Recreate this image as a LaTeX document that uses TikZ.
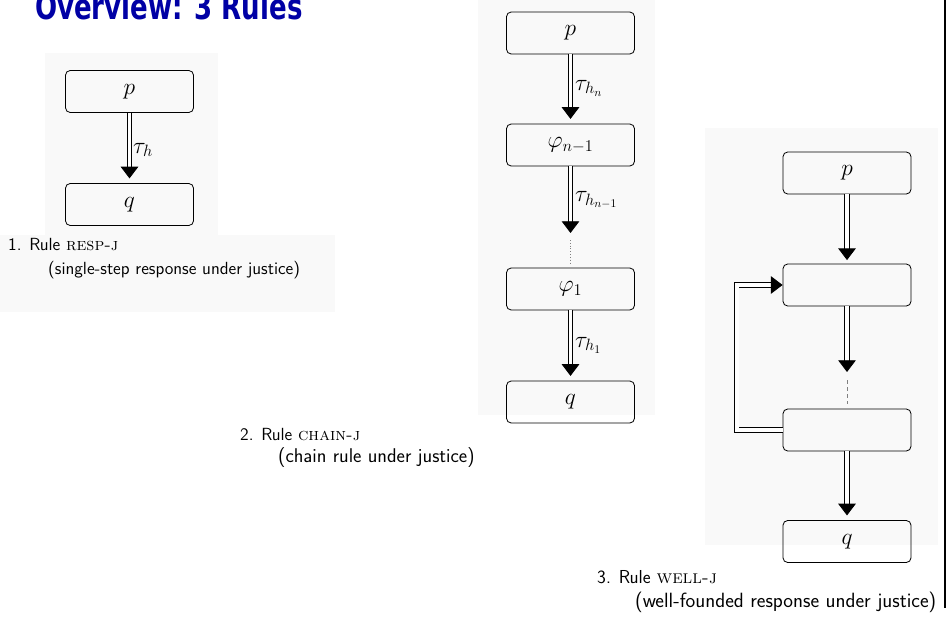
\RequirePackage{fix-cm}
\documentclass[tikz,border=0pt]{standalone}
\usepackage{fontspec}
\newfontfamily\titlefont{DejaVu Sans}
\usetikzlibrary{arrows.meta}
\definecolor{titleblue}{RGB}{0,0,165}
\definecolor{panelgray}{gray}{0.978}

\begin{document}
\begin{tikzpicture}[x=0.03cm, y=-0.03cm,
	rulebox/.style={draw, line width=0.7pt, rounded corners=4pt, minimum width=3.84cm, minimum height=1.26cm, inner sep=0pt, font=\fontsize{20}{24}\selectfont},
	implies/.style={double, double distance=3.4pt, line width=0.75pt, -{Triangle[width=15pt, length=10pt]}},
	caption/.style={anchor=west, inner sep=0pt, font=\fontsize{15}{18}\selectfont\sffamily},
	lbl/.style={anchor=west, inner sep=0pt, font=\fontsize{20}{24}\selectfont}]
	\useasboundingbox (0,0) rectangle (948,619);
	\clip (0,0) rectangle (948,619);
	\fill[panelgray] (45,53) rectangle (218,235);
	\fill[panelgray] (0,235) rectangle (335,312);
	\fill[panelgray] (478,0) rectangle (655,415);
	\fill[panelgray] (705,128) rectangle (938,545);
	\node[anchor=base west, inner sep=0pt, text=titleblue, font=\titlefont\bfseries\fontsize{30}{34}\selectfont] (title) at (35,20) {\scalebox{0.74}[1]{Overview: 3 Rules}};

	\node[rulebox] (p1) at (129.5,91.5) {$p$};
	\node[rulebox] (q1) at (129.5,204.5) {$q$};
	\draw[implies, shorten >=4pt] (p1) -- (q1);
	\node[lbl] (t1) at (133,150) {$\tau_h$};
	\node[caption] (c1a) at (8,245) {1. Rule \textrm{\textsc{resp-j}}};
	\node[caption] (c1b) at (48,270) {(single-step response under justice)};

	\node[rulebox] (p2) at (570.5,33) {$p$};
	\node[rulebox] (f2) at (570.5,145) {$\varphi_{n-1}$};
	\node[rulebox] (f1) at (570.5,289) {$\varphi_1$};
	\node[rulebox] (q2) at (570.5,402) {$q$};
	\coordinate (d2) at (570.5,233);
	\draw[implies, shorten >=4pt] (p2) -- (f2);
	\draw[implies] (f2) -- (d2);
	\draw[dotted, gray, shorten <=6pt, shorten >=3pt] (d2) -- (f1);
	\draw[implies, shorten >=4pt] (f1) -- (q2);
	\node[lbl] (t2) at (575,88) {$\tau_{h_n}$};
	\node[lbl] (t3) at (575,200) {$\tau_{h_{n-1}}$};
	\node[lbl] (t4) at (575,345) {$\tau_{h_1}$};
	\node[caption] (c2a) at (240,435) {2. Rule \textrm{\textsc{chain-j}}};
	\node[caption, font=\fontsize{17}{20}\selectfont\sffamily] (c2b) at (278,458) {(chain rule under justice)};

	\node[rulebox] (p3) at (847,173) {$p$};
	\node[rulebox] (b2) at (847,285) {};
	\node[rulebox] (b3) at (847,430) {};
	\node[rulebox] (q3) at (847,541.5) {$q$};
	\coordinate (d3) at (847,372);
	\draw[implies, shorten >=3pt] (p3) -- (b2);
	\draw[implies] (b2) -- (d3);
	\draw[dashed, gray, shorten <=7pt, shorten >=4pt] (d3) -- (b3);
	\draw[implies, shorten >=4pt] (b3) -- (q3);
	\draw[implies] (b3.west) -- ++(-46,0) |- (b2.west);
	\node[caption, font=\fontsize{16}{19}\selectfont\sffamily] (c3a) at (597,577) {3. Rule \textrm{\textsc{well-j}}};
	\node[caption, font=\fontsize{17.6}{21}\selectfont\sffamily] (c3b) at (635,602) {(well-founded response under justice)};

	\draw[line width=1.6pt] (945,0) -- (945,608);
\end{tikzpicture}
\end{document}
